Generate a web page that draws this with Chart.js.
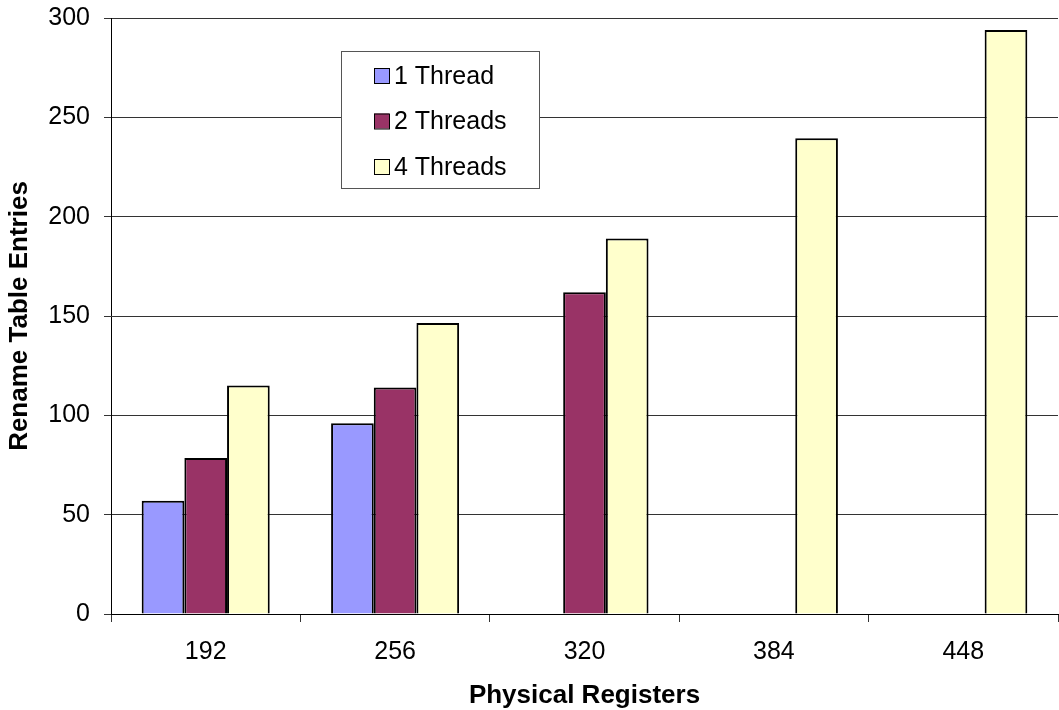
<!DOCTYPE html>
<html>
<head>
<meta charset="utf-8">
<title>Rename Table Entries vs Physical Registers</title>
<script src="https://cdn.jsdelivr.net/npm/chart.js@4.4.1/dist/chart.umd.min.js"></script>
<style>
  html, body { margin: 0; padding: 0; background: #fff; }
  #wrap { width: 1059px; height: 710px; }
</style>
</head>
<body>
<div id="wrap"><canvas id="chart" width="1059" height="710"></canvas></div>
<script>
// Physical register file sizes (x categories)
const registers = ['192', '256', '320', '384', '448'];

// Rename table entries needed per thread count
const oneThread   = [57, 96, null, null, null];
const twoThreads  = [78.5, 114, 162, null, null];
const fourThreads = [115, 146.5, 189, 239.5, 294];

const seriesNames  = ['1 Thread', '2 Threads', '4 Threads'];
const seriesColors = ['#9999FF', '#993366', '#FFFFCC'];

const FONT = "'Liberation Sans', Arial, Helvetica, sans-serif";
Chart.defaults.font.family = FONT;
Chart.defaults.color = '#000';

// Boxed legend drawn inside the plot area
const boxedLegend = {
  id: 'boxedLegend',
  afterDatasetsDraw(chart) {
    const ctx = chart.ctx;
    const x = 341, y = 51, w = 198, h = 137;
    ctx.save();
    ctx.fillStyle = '#fff';
    ctx.fillRect(x, y, w, h);
    ctx.strokeStyle = '#555';
    ctx.lineWidth = 1;
    ctx.strokeRect(x + 0.5, y + 0.5, w, h);
    ctx.font = '25px ' + FONT;
    ctx.textBaseline = 'middle';
    ctx.textAlign = 'left';
    const rows = [76, 121.5, 167];
    chart.data.datasets.forEach((ds, i) => {
      const cy = rows[i];
      ctx.fillStyle = ds.backgroundColor;
      ctx.fillRect(374, cy - 8, 15, 15);
      ctx.strokeStyle = '#000';
      ctx.strokeRect(374.5, cy - 7.5, 15, 15);
      ctx.fillStyle = '#000';
      ctx.fillText(ds.label, 394, cy + 1);
    });
    ctx.restore();
  }
};

new Chart(document.getElementById('chart'), {
  type: 'bar',
  data: {
    labels: registers,
    datasets: [
      { label: seriesNames[0], data: oneThread,   backgroundColor: seriesColors[0] },
      { label: seriesNames[1], data: twoThreads,  backgroundColor: seriesColors[1] },
      { label: seriesNames[2], data: fourThreads, backgroundColor: seriesColors[2] }
    ]
  },
  options: {
    responsive: false,
    animation: false,
    layout: { padding: { top: 18, right: 1, left: 0, bottom: 0 } },
    datasets: {
      bar: {
        borderColor: '#000',
        borderWidth: 2,
        categoryPercentage: 0.676,
        barPercentage: 1.0
      }
    },
    plugins: {
      legend: { display: false },
      tooltip: { enabled: false }
    },
    scales: {
      x: {
        afterFit(scale) {
          scale.height = 96;
          scale.paddingLeft = 0;
          scale.paddingRight = 0;
        },
        grid: {
          offset: true,
          drawOnChartArea: false,
          drawTicks: true,
          tickLength: 8,
          color: '#333'
        },
        border: { color: '#000', width: 1 },
        ticks: { font: { size: 25 }, color: '#000', padding: 15 },
        title: {
          display: true,
          text: 'Physical Registers',
          font: { size: 26, weight: 'bold', lineHeight: 1.1 },
          color: '#000',
          padding: { top: 0, bottom: 0 }
        }
      },
      y: {
        min: 0,
        max: 300,
        afterFit(scale) {
          scale.width = 111;
          scale.paddingTop = 0;
          scale.paddingBottom = 0;
        },
        ticks: { stepSize: 50, font: { size: 25 }, color: '#000', padding: 14 },
        grid: {
          color: '#333',
          lineWidth: 1,
          drawTicks: true,
          tickLength: 7
        },
        border: { color: '#000', width: 1 },
        title: {
          display: true,
          text: 'Rename Table Entries',
          font: { size: 26, weight: 'bold', lineHeight: 1.1 },
          color: '#000',
          padding: { top: 6, bottom: 0 }
        }
      }
    }
  },
  plugins: [boxedLegend]
});
</script>
</body>
</html>
